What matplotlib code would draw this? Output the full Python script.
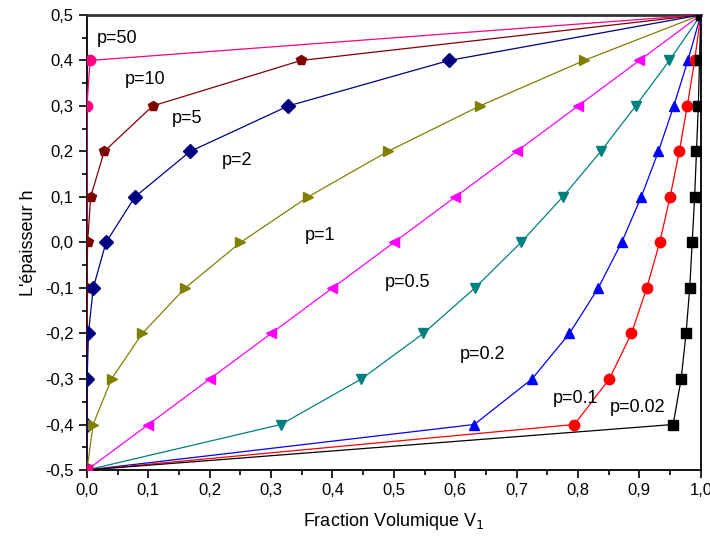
import matplotlib
matplotlib.use('Agg')
import matplotlib.pyplot as plt
from matplotlib.ticker import MultipleLocator, FuncFormatter

plt.rcParams['font.family'] = ['Liberation Sans', 'DejaVu Sans']

# thickness positions
h = [-0.5, -0.4, -0.3, -0.2, -0.1, 0.0, 0.1, 0.2, 0.3, 0.4, 0.5]

# volume fraction V1, one list per exponent p
v_p002 = [0.0, 0.955, 0.968, 0.976, 0.982, 0.986, 0.990, 0.993, 0.996, 0.998, 1.0]
v_p01 = [0.0, 0.794, 0.851, 0.887, 0.912, 0.933, 0.950, 0.965, 0.978, 0.990, 1.0]
v_p02 = [0.0, 0.631, 0.725, 0.786, 0.833, 0.871, 0.903, 0.931, 0.956, 0.979, 1.0]
v_p05 = [0.0, 0.316, 0.447, 0.548, 0.632, 0.707, 0.775, 0.837, 0.894, 0.949, 1.0]
v_p1 = [0.0, 0.1, 0.2, 0.3, 0.4, 0.5, 0.6, 0.7, 0.8, 0.9, 1.0]
v_p2 = [0.0, 0.01, 0.04, 0.09, 0.16, 0.25, 0.36, 0.49, 0.64, 0.81, 1.0]
v_p5 = [0.0, 0.00001, 0.0003, 0.0024, 0.0102, 0.031, 0.078, 0.168, 0.328, 0.590, 1.0]
v_p10 = [0.0, 0.0, 0.0, 0.00001, 0.0001, 0.001, 0.006, 0.028, 0.107, 0.349, 1.0]
v_p50 = [0.0, 0.0, 0.0, 0.0, 0.0, 0.0, 0.0, 0.0, 0.00001, 0.005, 1.0]

# drawn from p=50 (bottom) to p=0.02 (top)
series = [
    ('p=50', v_p50, '#FF0080', 'o'),
    ('p=10', v_p10, '#800000', 'p'),
    ('p=5', v_p5, '#000080', 'D'),
    ('p=2', v_p2, '#808000', '>'),
    ('p=1', v_p1, '#FF00FF', '<'),
    ('p=0.5', v_p05, '#008080', 'v'),
    ('p=0.2', v_p02, '#0000FF', '^'),
    ('p=0.1', v_p01, '#FF0000', 'o'),
    ('p=0.02', v_p002, 'black', 's'),
]

# label anchor positions (data coords)
label_pos = {
    'p=50': (0.016, 0.448), 'p=10': (0.062, 0.358), 'p=5': (0.138, 0.272),
    'p=2': (0.22, 0.181), 'p=1': (0.355, 0.016), 'p=0.5': (0.485, -0.089),
    'p=0.2': (0.607, -0.247), 'p=0.1': (0.759, -0.342), 'p=0.02': (0.852, -0.362),
}

fig = plt.figure(figsize=(7.1, 5.45), dpi=100)
ax = fig.add_axes([0.1225, 0.1376, 0.8645, 0.835])

for name, v, c, m in series:
    ms = 7 if m == 'D' else 7.5
    if name == 'p=50':
        # the underflowed zero points of p=50 show no marker
        mk = [i for i, val in enumerate(v) if val > 0]
    else:
        mk = None
    ax.plot(v, h, '-', color=c, marker=m, markersize=ms, linewidth=0.9,
            markevery=mk, zorder=3)
    x, y = label_pos[name]
    ax.text(x, y, name, fontsize=13, ha='left', va='center')

# the p=50 marker shows on top at the bottom-left corner
ax.plot(v_p50[0], h[0], 's', color='#FF0080', markersize=7, zorder=4)

ax.set_xlim(0, 1)
ax.set_ylim(-0.5, 0.5)
ax.xaxis.set_major_locator(MultipleLocator(0.1))
ax.xaxis.set_minor_locator(MultipleLocator(0.05))
ax.yaxis.set_major_locator(MultipleLocator(0.1))
ax.yaxis.set_minor_locator(MultipleLocator(0.05))
fmt = FuncFormatter(lambda v, pos: f'{v:.1f}'.replace('.', ',').replace('-0,0', '0,0'))
ax.xaxis.set_major_formatter(fmt)
ax.yaxis.set_major_formatter(fmt)
ax.tick_params(which='major', direction='out', length=6, width=1.2, labelsize=12,
               top=False, right=False)
ax.tick_params(which='minor', direction='out', length=3.5, width=1.2,
               top=False, right=False)
for s in ax.spines.values():
    s.set_linewidth(1.3)
ax.spines['top'].set_linewidth(2)
ax.spines['top'].set_color('#333333')

ax.set_xlabel('Fraction Volumique V$_1$', fontsize=13, labelpad=9)
ax.set_ylabel("L'épaisseur h", fontsize=13, labelpad=6)

fig.savefig('out.png', dpi=100)
